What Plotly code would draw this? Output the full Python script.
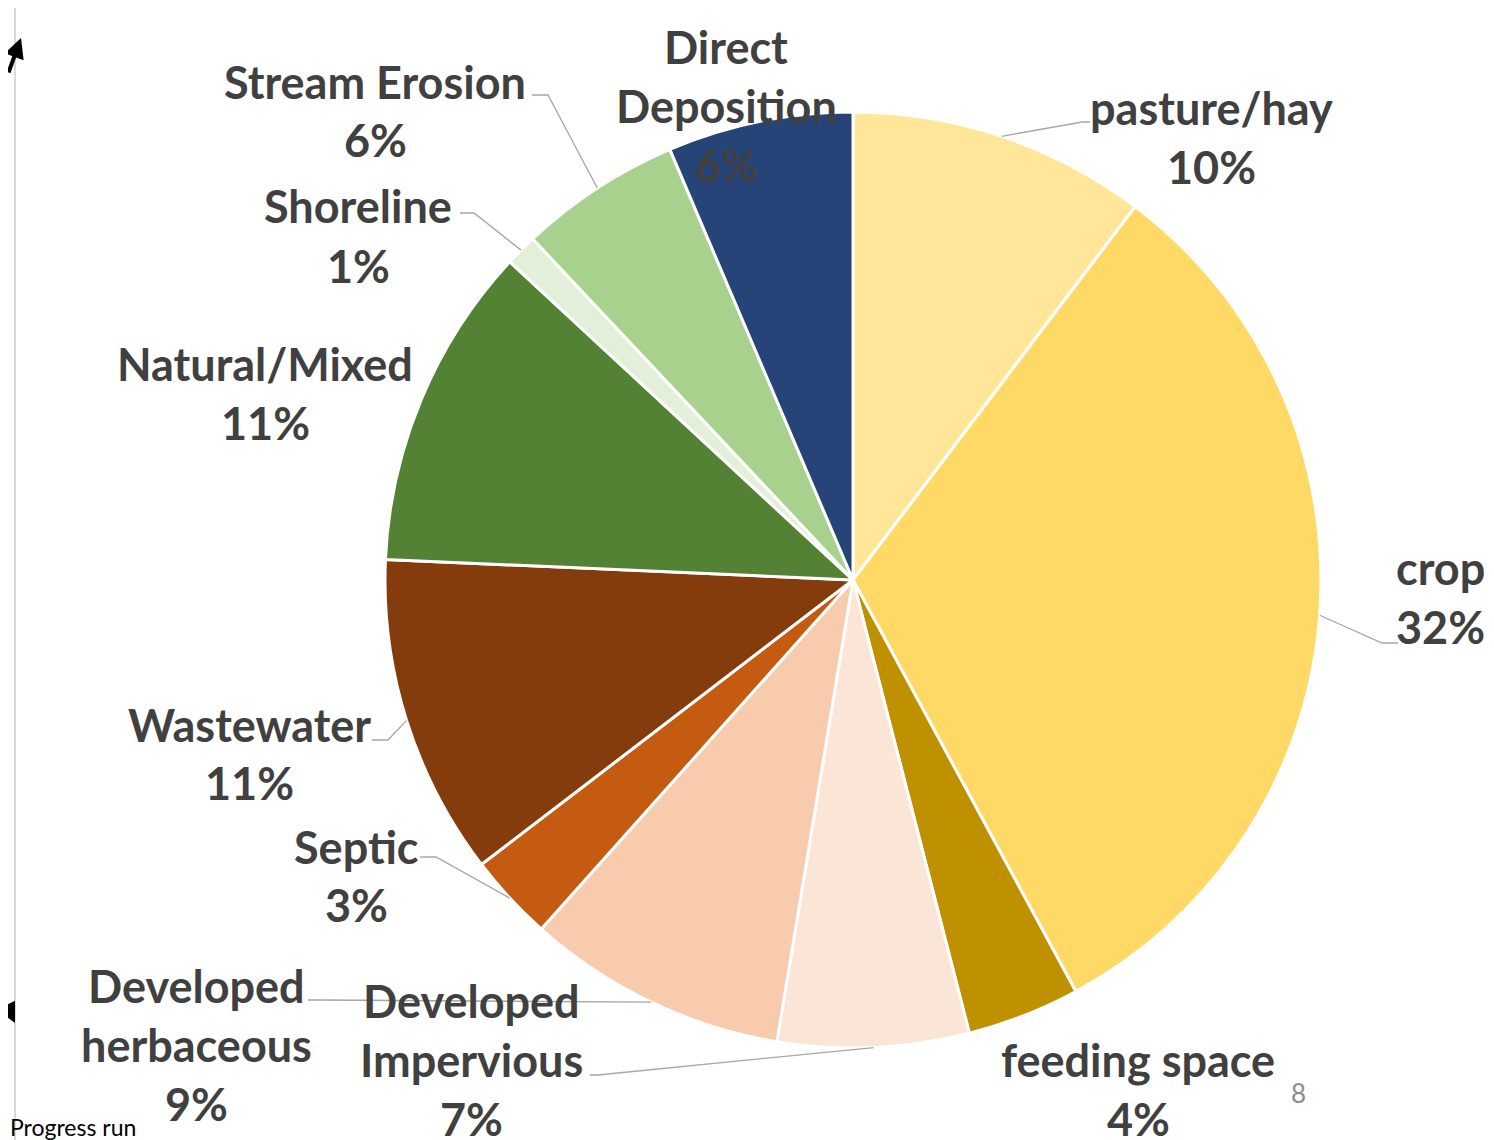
import math
import plotly.graph_objects as go

# ---- data ----
labels = ["pasture/hay", "crop", "feeding space", "Developed Impervious",
          "Developed herbaceous", "Septic", "Wastewater", "Natural/Mixed",
          "Shoreline", "Stream Erosion", "Direct Deposition"]
values = [10.3, 31.8, 3.9, 6.6, 9.0, 3.0, 11.1, 11.2, 1.1, 5.6, 6.4]
label_lines = [["pasture/hay"], ["crop"], ["feeding space"], ["Developed", "Impervious"],
               ["Developed", "herbaceous"], ["Septic"], ["Wastewater"], ["Natural/Mixed"],
               ["Shoreline"], ["Stream Erosion"], ["Direct", "Deposition"]]
colors = ["#FFE699", "#FFD966", "#BF9000", "#FBE5D6", "#F8CBAD", "#C55A11",
          "#843C0C", "#548235", "#E2F0D9", "#A9D18E", "#264478"]

# ---- layout constants (page pixels) ----
W, H = 1494, 1140
OFF = 8  # default body margin of the page
CX, CY, R = 853, 580, 468
label_pos = [(1211, 137), (1440, 597), (1138, 1089), (472, 1060), (196, 1045),
             (356, 876), (250, 754), (265, 393), (358, 236), (375, 111), (726, 106)]
LINE_GAP = 59
leaders = [((1090, 122), (1082, 122)), ((1398, 643), (1382, 643)), None,
           ((590, 1075), (598, 1075)), ((308, 1000), (320, 1000)),
           ((420, 857), (436, 857)), ((372, 740), (388, 740)), None,
           ((460, 213), (474, 213)), ((532, 95), (548, 95)), None]

def px(x):
    return (x - OFF) / W

def py(y):
    return 1 - (y - OFF) / H

total = sum(values)
fig = go.Figure(go.Pie(
    labels=labels, values=values, sort=False, direction="clockwise", rotation=0,
    marker=dict(colors=colors, line=dict(color="white", width=3)),
    textinfo="none", hoverinfo="label+percent", showlegend=False,
    domain=dict(x=[px(CX - R), px(CX + R)], y=[py(CY + R), py(CY - R)]),
))

annotations = []
shapes = []
font = dict(family="Lato, 'Open Sans', sans-serif", size=45, color="#404040", weight="bold")
cum = 0.0
for i, (lab, v) in enumerate(zip(labels, values)):
    mid = (cum + v / 2) / total * 2 * math.pi
    cum += v
    ax = CX + R * math.sin(mid)
    ay = CY - R * math.cos(mid)
    pct = f"{round(v / total * 100)}%"
    lines = label_lines[i] + [pct]
    lx, ly = label_pos[i]
    n = len(lines)
    if leaders[i] is not None:
        (sx, sy), (ex, ey) = leaders[i]
        shapes.append(dict(type="path", xref="paper", yref="paper",
                           path=f"M {px(sx)},{py(sy)} L {px(ex)},{py(ey)} L {px(ax)},{py(ay)}",
                           line=dict(color="#A6A6A6", width=1.3)))
    for k, t in enumerate(lines):
        y = ly + (k - (n - 1) / 2) * LINE_GAP
        annotations.append(dict(text=t, x=px(lx), y=py(y), xref="paper", yref="paper",
                                showarrow=False, xanchor="center", yanchor="middle", font=font))

# slide decorations
shapes.append(dict(type="line", xref="paper", yref="paper", x0=px(15), x1=1, y0=py(5), y1=py(5),
                   line=dict(color="#D9D9D9", width=2)))
shapes.append(dict(type="line", xref="paper", yref="paper", x0=px(15), x1=px(15), y0=py(5), y1=0,
                   line=dict(color="#D9D9D9", width=2)))
annotations.append(dict(text="", x=px(21), y=py(38), xref="paper", yref="paper", showarrow=True,
                        ax=-16, ay=36, arrowhead=2, arrowsize=1, arrowwidth=4, arrowcolor="black"))
annotations.append(dict(text="", x=px(15), y=py(1023), xref="paper", yref="paper", showarrow=True,
                        ax=-10, ay=-14, arrowhead=2, arrowsize=1, arrowwidth=4, arrowcolor="black"))
annotations.append(dict(text="Progress run", x=0, y=py(1127), xref="paper", yref="paper",
                        showarrow=False, xanchor="left", yanchor="middle",
                        font=dict(family="Lato, sans-serif", size=23, color="black")))
annotations.append(dict(text="8", x=px(1298), y=py(1093), xref="paper", yref="paper",
                        showarrow=False, xanchor="center", yanchor="middle",
                        font=dict(family="Lato, sans-serif", size=26, color="#8C8C8C")))

fig.update_layout(width=W, height=H, margin=dict(l=0, r=0, t=0, b=0),
                  paper_bgcolor="white", plot_bgcolor="white",
                  annotations=annotations, shapes=shapes)
fig.write_html("out.html")
